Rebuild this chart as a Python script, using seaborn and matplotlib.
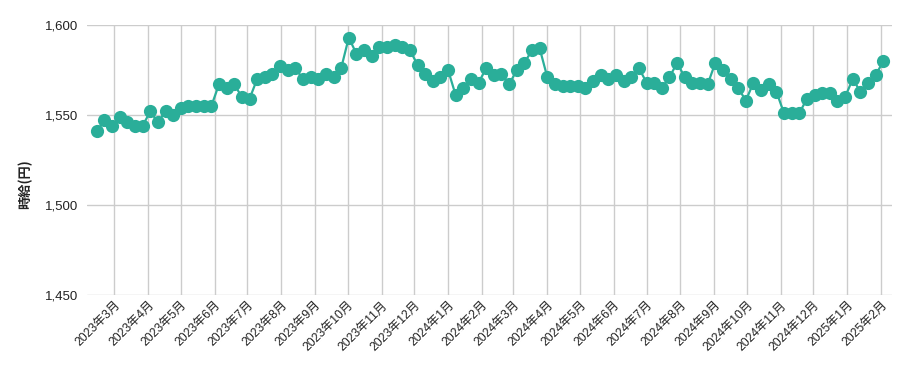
import pandas as pd
import matplotlib.pyplot as plt
import matplotlib.ticker as mticker
import seaborn as sns

# weekly hourly wage (yen), first week 2023-02-13
start_week = "2023-02-13"
wage = [
    1541, 1547, 1544, 1549, 1546, 1544, 1544, 1552, 1546, 1552,
    1550, 1554, 1555, 1555, 1555, 1555, 1567, 1565, 1567, 1560,
    1559, 1570, 1571, 1573, 1577, 1575, 1576, 1570, 1571, 1570,
    1573, 1571, 1576, 1593, 1584, 1586, 1583, 1588, 1588, 1589,
    1588, 1586, 1578, 1573, 1569, 1571, 1575, 1561, 1565, 1570,
    1568, 1576, 1572, 1573, 1567, 1575, 1579, 1586, 1587, 1571,
    1567, 1566, 1566, 1566, 1565, 1569, 1572, 1570, 1572, 1569,
    1571, 1576, 1568, 1568, 1565, 1571, 1579, 1571, 1568, 1568,
    1567, 1579, 1575, 1570, 1565, 1558, 1568, 1564, 1567, 1563,
    1551, 1551, 1551, 1559, 1561, 1562, 1562, 1558, 1560, 1570,
    1563, 1568, 1572, 1580,
]
month_ticks = pd.date_range("2023-03-01", "2025-02-01", freq="MS")
month_labels = [f"{d.year}年{d.month}月" for d in month_ticks]
y_ticks = [1450, 1500, 1550, 1600]

df = pd.DataFrame({
    "week": pd.date_range(start_week, periods=len(wage), freq="7D"),
    "wage": wage,
})

sns.set_style("white")
plt.rcParams["font.family"] = ["Liberation Sans", "Noto Sans CJK JP", "DejaVu Sans"]

fig = plt.figure(figsize=(9.11, 3.71), dpi=100)
ax = fig.add_axes([87 / 911, 1 - 295 / 371, 805 / 911, 270 / 371])

teal = "#2aae99"
sns.lineplot(data=df, x="week", y="wage", ax=ax, color=teal, linewidth=1.6,
             marker="o", markersize=9.5, markeredgewidth=0, zorder=3)

ax.set_xlim(pd.Timestamp("2023-02-04"), pd.Timestamp("2025-02-11"))
ax.set_ylim(1450, 1600)
ax.set_yticks(y_ticks)
ax.yaxis.set_major_formatter(mticker.FuncFormatter(lambda v, p: f"{int(v):,}"))
ax.set_xticks(month_ticks)
ax.set_xticklabels(month_labels, rotation=45, ha="right", va="top",
                   rotation_mode="anchor")

ax.grid(True, color="#cccccc", linewidth=1)
for s in ax.spines.values():
    s.set_visible(False)
ax.tick_params(axis="y", length=0, labelsize=9.5, colors="#222222", pad=6)
ax.tick_params(axis="x", length=0, labelsize=8.7, colors="#222222", pad=3)

ax.set_xlabel("")
ax.set_ylabel("時給(円)", fontsize=9.5, fontweight="bold", color="#222222",
              family=["Noto Sans CJK JP", "DejaVu Sans"])
ax.yaxis.set_label_coords(-0.068, 0.41)

fig.savefig("out.png", dpi=100)
